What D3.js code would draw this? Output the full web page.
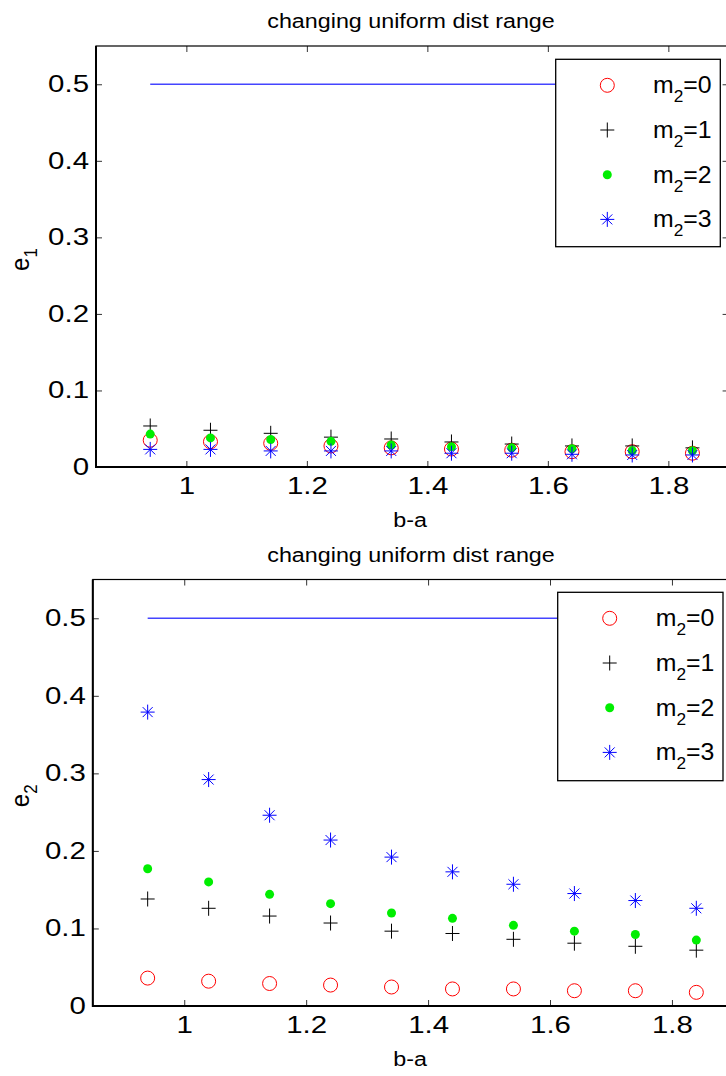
<!DOCTYPE html>
<html>
<head>
<meta charset="utf-8">
<script src="https://cdn.jsdelivr.net/npm/d3@7"></script>
<style>
  body { margin: 0; background: #fff; }
  svg text { font-family: "Liberation Sans", Arial, sans-serif; fill: #000; }
</style>
</head>
<body>
<svg width="726" height="1076"></svg>
<script>
// b-a values on the x axis
var baVals = [0.94, 1.04, 1.14, 1.24, 1.34, 1.44, 1.54, 1.64, 1.74, 1.84];

// top panel: e1
var e1_m0 = [0.035, 0.033, 0.031, 0.0275, 0.025, 0.0235, 0.022, 0.020, 0.020, 0.018];
var e1_m1 = [0.0536, 0.048, 0.044, 0.039, 0.0366, 0.0327, 0.030, 0.0275, 0.0275, 0.025];
var e1_m2 = [0.043, 0.038, 0.036, 0.0335, 0.0288, 0.0265, 0.025, 0.024, 0.0213, 0.0213];
var e1_m3 = [0.023, 0.023, 0.021, 0.021, 0.021, 0.018, 0.018, 0.0166, 0.0157, 0.0157];

// bottom panel: e2
var e2_m0 = [0.036, 0.032, 0.029, 0.027, 0.0245, 0.022, 0.022, 0.0197, 0.0197, 0.0176];
var e2_m1 = [0.138, 0.126, 0.116, 0.107, 0.0965, 0.0935, 0.086, 0.081, 0.077, 0.072];
var e2_m2 = [0.177, 0.160, 0.144, 0.132, 0.120, 0.113, 0.104, 0.0965, 0.0922, 0.085];
var e2_m3 = [0.379, 0.292, 0.246, 0.214, 0.192, 0.173, 0.157, 0.145, 0.136, 0.126];

// reference line
var refX = [0.94, 1.84];
var refY = [0.5, 0.5];

var xTicks = [1, 1.2, 1.4, 1.6, 1.8];
var yTicks = [0, 0.1, 0.2, 0.3, 0.4, 0.5];
var legendLabels = ["0", "1", "2", "3"];
var titleText = "changing uniform dist range";

var SX = 1.28;   // tick labels are stretched sideways
var SXL = 1.11;  // title and axis labels

var svg = d3.select("svg");
svg.append("rect").attr("width", 726).attr("height", 1076).attr("fill", "#fff");

// text in a stretched group
function stext(parent, x, y, size, anchor, sx) {
    return parent.append("g")
        .attr("transform", "translate(" + x + "," + y + ") scale(" + sx + ",1)")
        .append("text")
        .attr("font-size", size)
        .attr("text-anchor", anchor);
}

// marker drawing
function drawMarker(g, kind, cx, cy) {
    if (kind === 0) {
        g.append("circle").attr("cx", cx).attr("cy", cy).attr("r", 7)
            .attr("fill", "none").attr("stroke", "#ff0000").attr("stroke-width", 1);
    } else if (kind === 1) {
        g.append("path")
            .attr("d", "M" + (cx - 7) + "," + cy + "H" + (cx + 7) + "M" + cx + "," + (cy - 7.5) + "V" + (cy + 7.5))
            .attr("stroke", "#000").attr("stroke-width", 1).attr("fill", "none");
    } else if (kind === 2) {
        g.append("circle").attr("cx", cx).attr("cy", cy).attr("r", 4.5)
            .attr("fill", "#00ee00").attr("stroke", "none");
    } else {
        var d = 5;
        g.append("path")
            .attr("d", "M" + (cx - 7) + "," + cy + "H" + (cx + 7) +
                "M" + cx + "," + (cy - 7.5) + "V" + (cy + 7.5) +
                "M" + (cx - d) + "," + (cy - d) + "L" + (cx + d) + "," + (cy + d) +
                "M" + (cx - d) + "," + (cy + d) + "L" + (cx + d) + "," + (cy - d))
            .attr("stroke", "#0000ff").attr("stroke-width", 1).attr("fill", "none");
    }
}

function drawPanel(opt) {
    var x = d3.scaleLinear().domain([0.85, 1.9]).range([opt.left, opt.right]);
    var y = d3.scaleLinear().domain([0, 0.55]).range([opt.bottom, opt.top]);
    var g = svg.append("g");

    // title
    stext(g, 411, opt.top - 18, 21, "middle", SXL).text(titleText);

    // ticks on all four sides, pointing in
    var bx = g.append("g").attr("transform", "translate(0," + opt.bottom + ")")
        .call(d3.axisBottom(x).tickValues(xTicks).tickSizeInner(-6).tickSizeOuter(0).tickPadding(11)
            .tickFormat(d3.format("")));
    bx.selectAll("text").attr("font-size", 23).attr("transform", "scale(" + SX + ",1)")
        .attr("font-family", "Liberation Sans, Arial, sans-serif").attr("fill", "#000");
    g.append("g").attr("transform", "translate(0," + opt.top + ")")
        .call(d3.axisTop(x).tickValues(xTicks).tickSizeInner(-6).tickSizeOuter(0).tickFormat(""));

    var ly = g.append("g").attr("transform", "translate(" + opt.left + ",0)")
        .call(d3.axisLeft(y).tickValues(yTicks).tickSizeInner(-6).tickSizeOuter(0)
            .tickFormat(d3.format("")));
    ly.selectAll("text").attr("font-size", 23).attr("x", -7 / SX)
        .attr("transform", "scale(" + SX + ",1)")
        .attr("font-family", "Liberation Sans, Arial, sans-serif").attr("fill", "#000");
    g.append("g").attr("transform", "translate(" + opt.right + ",0)")
        .call(d3.axisRight(y).tickValues(yTicks).tickSizeInner(-6).tickSizeOuter(0).tickFormat(""));

    g.selectAll(".domain").remove();
    g.selectAll(".tick line").attr("stroke", "#333").attr("stroke-width", 1);

    // axes box
    g.append("rect").attr("x", opt.left).attr("y", opt.top)
        .attr("width", opt.right - opt.left).attr("height", opt.bottom - opt.top)
        .attr("fill", "none").attr("stroke", "#000").attr("stroke-width", 1.2);
    g.append("path")
        .attr("d", "M" + opt.left + "," + opt.top + "V" + opt.bottom + "H" + opt.right)
        .attr("fill", "none").attr("stroke", "#000").attr("stroke-width", 2);

    // axis labels
    stext(g, 410, opt.bottom + 60, 21, "middle", SXL).text("b-a");
    var yl = g.append("g")
        .attr("transform", "translate(29," + ((opt.top + opt.bottom) / 2 + 3) + ") scale(" + SXL + ",1) rotate(-90)")
        .append("text").attr("font-size", 24).attr("text-anchor", "middle");
    yl.append("tspan").text("e");
    yl.append("tspan").attr("font-size", 17).attr("dy", 7).text(opt.ysub);

    // reference line
    g.append("path")
        .datum(refX.map(function (v, i) { return [v, refY[i]]; }))
        .attr("d", d3.line().x(function (d) { return x(d[0]); }).y(function (d) { return y(d[1]); }))
        .attr("stroke", "#4444ff").attr("stroke-width", 1.3).attr("fill", "none");

    // data markers
    var mg = g.append("g");
    opt.series.forEach(function (vals, k) {
        vals.forEach(function (v, i) {
            drawMarker(mg, k, x(baVals[i]), y(v));
        });
    });

    // legend
    var L = opt.legend;
    g.append("rect").attr("x", L.x0).attr("y", L.y0)
        .attr("width", L.x1 - L.x0).attr("height", L.y1 - L.y0)
        .attr("fill", "#fff").attr("stroke", "#000").attr("stroke-width", 1.3);
    legendLabels.forEach(function (lab, k) {
        var ey = L.y0 + 26 + k * 44.7;
        drawMarker(g, k, L.mx, ey);
        var t = g.append("g")
            .attr("transform", "translate(" + L.tx + "," + (ey + 8) + ") scale(1.08,1)")
            .append("text").attr("font-size", 23);
        t.append("tspan").text("m");
        t.append("tspan").attr("font-size", 16).attr("dy", 9).text("2");
        t.append("tspan").attr("dy", -9).text("=" + lab);
    });
}

drawPanel({
    left: 96, right: 728.6, top: 46, bottom: 467, ysub: "1",
    series: [e1_m0, e1_m1, e1_m2, e1_m3],
    legend: { x0: 555.7, x1: 720.3, y0: 59.3, y1: 246.7, mx: 607.3, tx: 653 }
});

drawPanel({
    left: 92.8, right: 732.9, top: 579.5, bottom: 1006, ysub: "2",
    series: [e2_m0, e2_m1, e2_m2, e2_m3],
    legend: { x0: 557.7, x1: 723, y0: 592.3, y1: 780.7, mx: 609.7, tx: 655.7 }
});
</script>
</body>
</html>
